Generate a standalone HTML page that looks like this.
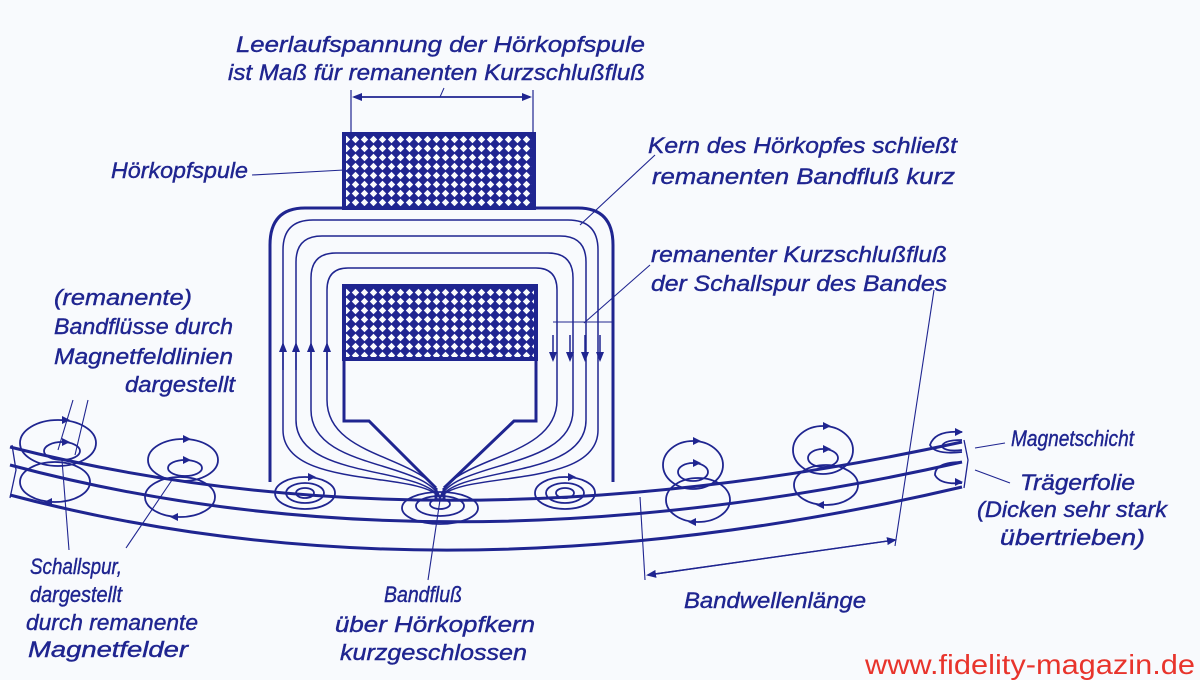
<!DOCTYPE html>
<html><head><meta charset="utf-8"><style>
html,body{margin:0;padding:0;background:#f8fafd;}
svg{display:block}
text{font-family:"Liberation Sans Narrow","Liberation Sans",sans-serif;font-style:italic;fill:#1f2590;font-size:22px;stroke:#1f2590;stroke-width:0.4}
</style></head><body>
<svg width="1200" height="680" viewBox="0 0 1200 680" xmlns="http://www.w3.org/2000/svg">
<defs>
<pattern id="h" width="9" height="9" patternUnits="userSpaceOnUse">
<rect width="9" height="9" fill="#1f2590"/>
<path d="M4.5,0.8 L8.2,4.5 L4.5,8.2 L0.8,4.5 Z" fill="#f8fafd"/>
</pattern>
<marker id="a" markerWidth="10" markerHeight="8" refX="8" refY="4" orient="auto" markerUnits="userSpaceOnUse"><path d="M0,0 L10,4 L0,8 Z" fill="#1f2590"/></marker>
</defs>
<g stroke="#1f2590" fill="none">
<rect x="344" y="134" width="190" height="74" fill="url(#h)" stroke-width="4"/>
<line x1="351" y1="90" x2="351" y2="134" stroke-width="1.2"/>
<line x1="533" y1="90" x2="533" y2="134" stroke-width="1.2"/>
<line x1="354" y1="97" x2="530" y2="97" stroke-width="1.5" marker-end="url(#a)"/>
<line x1="530" y1="97" x2="354" y2="97" stroke-width="1.5" marker-end="url(#a)"/>
<line x1="440" y1="97" x2="444" y2="88" stroke-width="1"/>
<path d="M270,482 V245 Q270,208 305,208 H578 Q613,208 613,245 V482" stroke-width="3"/>
<rect x="344" y="286" width="192" height="73" fill="url(#h)" stroke-width="4"/>
<path d="M344,359 V421 H369 L436,488 M536,359 V421 H514 L444,488 M436,488 V500 M444,488 V500" stroke-width="3"/>
<g stroke-width="1.5">
<path d="M440,498 C420,470 283,490 283,430 V250 Q283,220 313,220 H568 Q598,220 598,250 V430 C598,490 460,470 440,498"/>
<path d="M440,498 C420,465 296,480 296,420 V262 Q296,236 322,236 H560 Q586,236 586,262 V420 C586,480 460,465 440,498"/>
<path d="M440,498 C425,460 311,470 311,410 V278 Q311,253 336,253 H548 Q573,253 573,278 V410 C573,470 455,460 440,498"/>
<path d="M440,498 C428,455 327,460 327,400 V290 Q327,268 348,268 H536 Q557,268 557,290 V400 C557,460 452,455 440,498"/>
</g>
<g stroke-width="1.5">
<line x1="283" y1="370" x2="283" y2="344" marker-end="url(#a)"/>
<line x1="296" y1="370" x2="296" y2="344" marker-end="url(#a)"/>
<line x1="311" y1="370" x2="311" y2="344" marker-end="url(#a)"/>
<line x1="327" y1="370" x2="327" y2="344" marker-end="url(#a)"/>
<line x1="553" y1="335" x2="553" y2="360" marker-end="url(#a)"/>
<line x1="570" y1="335" x2="570" y2="360" marker-end="url(#a)"/>
<line x1="585" y1="335" x2="585" y2="360" marker-end="url(#a)"/>
<line x1="600" y1="335" x2="600" y2="360" marker-end="url(#a)"/>
</g>
<path d="M10,447 Q440,556 962,442" stroke-width="3"/>
<path d="M10,465 Q440,580 962,462" stroke-width="3"/>
<path d="M10,495 Q440,609 962,487" stroke-width="3"/>
<path d="M12,445 L16,470 L10,498 M964,440 L968,460 L964,488" stroke-width="1.3"/>
<g stroke-width="1.8">
<ellipse cx="58" cy="443" rx="38" ry="23"/><ellipse cx="62" cy="451" rx="18" ry="9"/><ellipse cx="55" cy="482" rx="35" ry="20"/>
<ellipse cx="183" cy="460" rx="35" ry="21"/><ellipse cx="185" cy="468" rx="17" ry="8"/><ellipse cx="180" cy="497" rx="35" ry="20"/>
<ellipse cx="305" cy="493" rx="30" ry="16"/><ellipse cx="305" cy="493" rx="19" ry="10"/><ellipse cx="305" cy="493" rx="9" ry="5"/>
<ellipse cx="565" cy="493" rx="30" ry="16"/><ellipse cx="565" cy="493" rx="19" ry="10"/><ellipse cx="565" cy="493" rx="9" ry="5"/>
<ellipse cx="440" cy="508" rx="38" ry="16"/><ellipse cx="440" cy="506" rx="24" ry="10"/><ellipse cx="440" cy="504" rx="10" ry="5"/>
<ellipse cx="693" cy="465" rx="30" ry="24"/><ellipse cx="693" cy="472" rx="15" ry="9"/><ellipse cx="698" cy="500" rx="32" ry="22"/>
<ellipse cx="823" cy="450" rx="30" ry="24"/><ellipse cx="823" cy="458" rx="15" ry="9"/><ellipse cx="826" cy="485" rx="32" ry="20"/>
<path d="M962,432 Q935,430 930,445 Q935,455 962,452 M962,440 Q942,440 942,447 Q947,452 962,450 M962,462 Q935,462 935,475 Q940,485 962,483"/>
</g>
<g fill="#1f2590" stroke="none">
<path d="M62,416 l8,4 l-8,4z"/><path d="M62,438 l8,4 l-8,4z"/><path d="M52,506 l-8,-4 l8,-4z"/>
<path d="M183,435 l8,4 l-8,4z"/><path d="M183,456 l8,4 l-8,4z"/><path d="M178,521 l-8,-4 l8,-4z"/>
<path d="M308,473 l8,4 l-8,4z"/><path d="M568,473 l8,4 l-8,4z"/>
<path d="M693,437 l8,4 l-8,4z"/><path d="M693,459 l8,4 l-8,4z"/><path d="M696,526 l-8,-4 l8,-4z"/>
<path d="M823,422 l8,4 l-8,4z"/><path d="M823,445 l8,4 l-8,4z"/><path d="M824,509 l-8,-4 l8,-4z"/>
<path d="M955,428 l8,4 l-8,4z"/><path d="M955,478 l8,4 l-8,4z"/>
</g>
<g stroke-width="1.1">
<line x1="252" y1="175" x2="344" y2="170"/>
<line x1="655" y1="155" x2="580" y2="225"/>
<line x1="650" y1="265" x2="584" y2="323"/>
<line x1="553" y1="322" x2="613" y2="322"/>
<line x1="73" y1="400" x2="58" y2="450"/><line x1="88" y1="400" x2="75" y2="455"/>
<line x1="62" y1="460" x2="69" y2="550"/><line x1="172" y1="480" x2="126" y2="548"/>
<line x1="440" y1="500" x2="428" y2="580"/>
<line x1="1005" y1="443" x2="975" y2="448"/><line x1="1010" y1="483" x2="975" y2="470"/>
<line x1="640" y1="497" x2="645" y2="580"/><line x1="934" y1="290" x2="895" y2="546"/>
<line x1="648" y1="575" x2="895" y2="540" stroke-width="1.4" marker-end="url(#a)"/>
<line x1="895" y1="540" x2="648" y2="575" stroke-width="1.4" marker-end="url(#a)"/>
</g>
</g>
<text x="236" y="52" textLength="409" lengthAdjust="spacingAndGlyphs">Leerlaufspannung der Hörkopfspule</text>
<text x="228" y="80" textLength="417" lengthAdjust="spacingAndGlyphs">ist Maß für remanenten Kurzschlußfluß</text>
<text x="111" y="178" textLength="137" lengthAdjust="spacingAndGlyphs">Hörkopfspule</text>
<text x="648" y="153" textLength="309" lengthAdjust="spacingAndGlyphs">Kern des Hörkopfes schließt</text>
<text x="652" y="184" textLength="303" lengthAdjust="spacingAndGlyphs">remanenten Bandfluß kurz</text>
<text x="651" y="262" textLength="296" lengthAdjust="spacingAndGlyphs">remanenter Kurzschlußfluß</text>
<text x="651" y="291" textLength="296" lengthAdjust="spacingAndGlyphs">der Schallspur des Bandes</text>
<text x="54" y="305" textLength="138" lengthAdjust="spacingAndGlyphs">(remanente)</text>
<text x="54" y="334" textLength="179" lengthAdjust="spacingAndGlyphs">Bandflüsse durch</text>
<text x="54" y="364" textLength="179" lengthAdjust="spacingAndGlyphs">Magnetfeldlinien</text>
<text x="125" y="392" textLength="110" lengthAdjust="spacingAndGlyphs">dargestellt</text>
<text x="1011" y="446" textLength="123" lengthAdjust="spacingAndGlyphs">Magnetschicht</text>
<text x="1020" y="490" textLength="115" lengthAdjust="spacingAndGlyphs">Trägerfolie</text>
<text x="977" y="517" textLength="190" lengthAdjust="spacingAndGlyphs">(Dicken sehr stark</text>
<text x="1000" y="545" textLength="145" lengthAdjust="spacingAndGlyphs">übertrieben)</text>
<text x="30" y="574" textLength="92" lengthAdjust="spacingAndGlyphs">Schallspur,</text>
<text x="30" y="602" textLength="92" lengthAdjust="spacingAndGlyphs">dargestellt</text>
<text x="26" y="630" textLength="172" lengthAdjust="spacingAndGlyphs">durch remanente</text>
<text x="28" y="657" textLength="160" lengthAdjust="spacingAndGlyphs">Magnetfelder</text>
<text x="384" y="602" textLength="78" lengthAdjust="spacingAndGlyphs">Bandfluß</text>
<text x="335" y="632" textLength="200" lengthAdjust="spacingAndGlyphs">über Hörkopfkern</text>
<text x="340" y="660" textLength="187" lengthAdjust="spacingAndGlyphs">kurzgeschlossen</text>
<text x="684" y="608" textLength="182" lengthAdjust="spacingAndGlyphs">Bandwellenlänge</text>
<text x="865" y="674" textLength="330" lengthAdjust="spacingAndGlyphs" style="font-family:'Liberation Sans',sans-serif;font-style:normal;fill:#e8342c;stroke:none;font-size:28px">www.fidelity-magazin.de</text>
</svg>
</body></html>
